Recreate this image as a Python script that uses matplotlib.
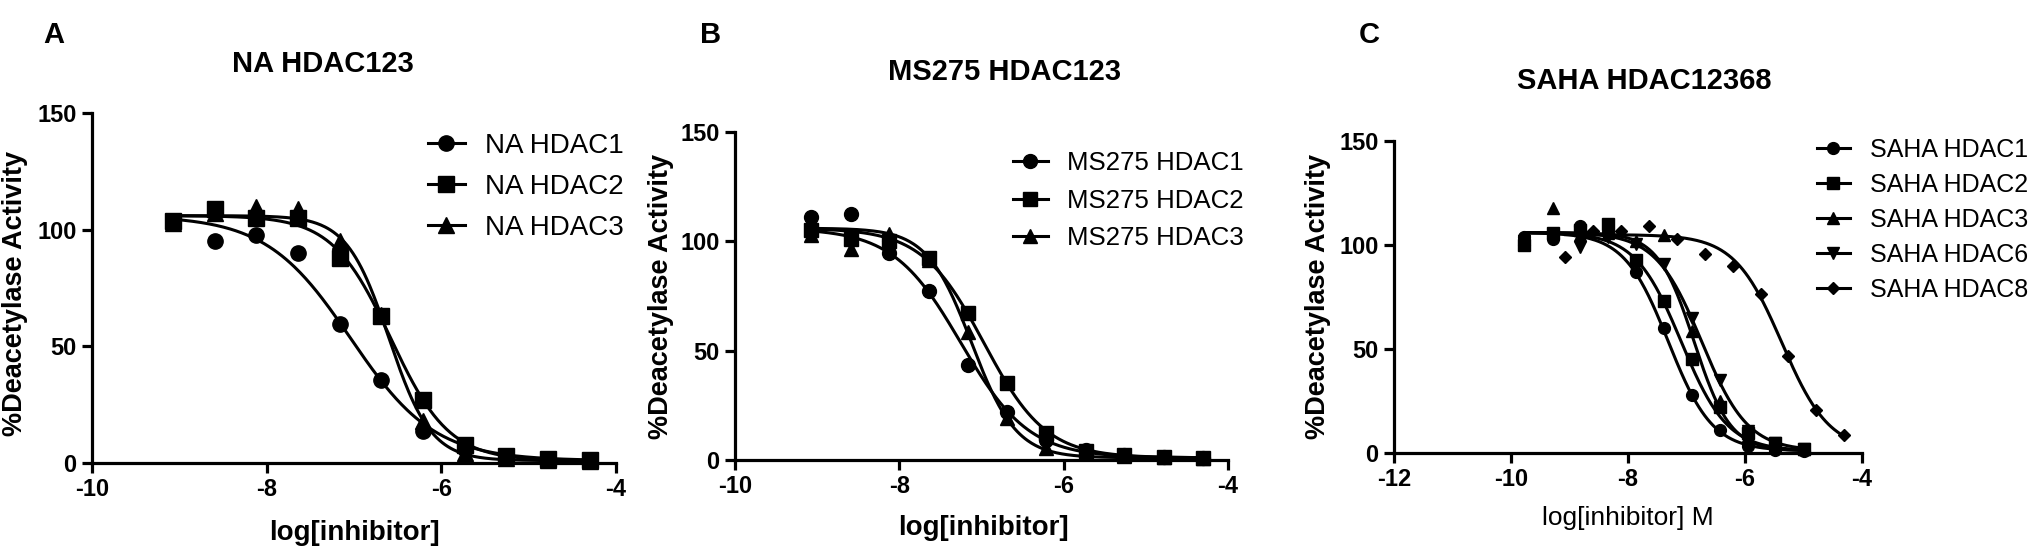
import matplotlib
matplotlib.use("Agg")
import matplotlib.pyplot as plt
import numpy as np

plt.rcParams['font.family'] = ['Liberation Sans', 'DejaVu Sans']
plt.rcParams['axes.unicode_minus'] = False

W, H = 2031, 551

# log concentrations (3-fold dilutions)
x_ab = [-9.07, -8.59, -8.12, -7.64, -7.16, -6.69, -6.21, -5.73, -5.26, -4.78, -4.30]
x_c = [-9.77, -9.29, -8.82, -8.34, -7.86, -7.39, -6.91, -6.43, -5.95, -5.48, -5.00]

# panel A: NA
na_labels = ['NA HDAC1', 'NA HDAC2', 'NA HDAC3']
na_hdac1 = [103, 95, 97.5, 90, 59.7, 35.5, 13.6, 6, 2.5, 1.5, 1]
na_hdac2 = [103.6, 108.9, 105, 105, 87.7, 62.8, 27.2, 7.6, 3, 1.8, 1.2]
na_hdac3 = [103, 107, 109.6, 108.9, 95.3, 63.5, 18, 4.5, 2, 1.5, 1]
# fitted 4PL parameters: top, bottom, logIC50, hill slope
na_fits = [(106, 1, -7.04, 0.9), (106, 1, -6.58, 1.3), (106, 1, -6.60, 1.8)]

# panel B: MS275
ms_labels = ['MS275 HDAC1', 'MS275 HDAC2', 'MS275 HDAC3']
ms_hdac1 = [111.2, 112.3, 94.7, 77.5, 43.3, 22, 9, 4.8, 2.5, 1.5, 1]
ms_hdac2 = [105, 101, 100, 92.3, 67.4, 35.3, 12.4, 4.3, 2.4, 1.5, 1]
ms_hdac3 = [102.7, 96.3, 103.5, 91.4, 58.6, 19.3, 5.6, 3, 2, 1.5, 1]
ms_fits = [(106, 1, -7.25, 1.05), (106, 1, -6.97, 1.15), (106, 1, -7.12, 1.6)]

# panel C: SAHA
saha_labels = ['SAHA HDAC1', 'SAHA HDAC2', 'SAHA HDAC3', 'SAHA HDAC6', 'SAHA HDAC8']
saha_hdac1 = [104, 103, 109, 106, 87, 60, 28, 11, 3.5, 1.5, 1]
saha_hdac2 = [100, 106, 107, 110, 93, 73, 45, 22, 9.5, 5, 2]
saha_hdac3 = [103, 118, 105, 106, 102, 105, 58.5, 25, 8, 4, 2]
saha_hdac6 = [102, 104, 99, 104, 100.7, 91, 65, 35, 10.5, 5, 2]
saha_hdac8 = [94, 106.6, 106.6, 109, 102.7, 95.6, 89.8, 76.3, 46.7, 20.6, 8.8]
saha_fits = [(106, 1, -7.31, 1.15), (106, 1, -7.09, 1.1), (106, 1, -6.87, 1.4),
             (106, 1, -6.74, 1.1), (105, 1, -5.37, 1.07)]


def four_pl(x, top, bottom, logic50, slope):
    return bottom + (top - bottom) / (1 + 10 ** ((x - logic50) * slope))


def add_axes(fig, left, right, top, bottom):
    return fig.add_axes([left / W, 1 - bottom / H, (right - left) / W, (bottom - top) / H])


def style_axes(ax, xticks):
    ax.set_xlim(xticks[0], xticks[-1])
    ax.set_ylim(0, 150)
    ax.set_xticks(xticks)
    ax.set_yticks([0, 50, 100, 150])
    for s in ['top', 'right']:
        ax.spines[s].set_visible(False)
    for s in ['left', 'bottom']:
        ax.spines[s].set_linewidth(2.3)
    ax.tick_params(width=2.3, length=7, labelsize=17, pad=4)
    for lab in ax.get_xticklabels() + ax.get_yticklabels():
        lab.set_fontweight('bold')


def draw_series(ax, xs, ys, fit, marker, ms, label):
    xf = np.linspace(min(xs), max(xs), 300)
    ax.plot(xf, four_pl(xf, *fit), color='black', lw=2.2, zorder=3, clip_on=False)
    ax.plot(xs, ys, linestyle='none', marker=marker, ms=ms, color='black',
            zorder=4, clip_on=False)
    ax.plot([], [], color='black', lw=2.2, marker=marker, ms=ms, label=label)


fig = plt.figure(figsize=(W / 100, H / 100), dpi=100)

# ---- panel A
axA = add_axes(fig, 92, 616, 113, 463)
style_axes(axA, [-10, -8, -6, -4])
for ys, fit, m, lab in zip([na_hdac1, na_hdac2, na_hdac3], na_fits, ['o', 's', '^'], na_labels):
    draw_series(axA, x_ab, ys, fit, m, 11, lab)
axA.legend(loc='upper left', bbox_to_anchor=(428 / W, 1 - 133 / H), bbox_transform=fig.transFigure,
           frameon=False, fontsize=20, borderpad=0, borderaxespad=0, handlelength=1.33,
           handletextpad=0.72, labelspacing=0.54)

# ---- panel B
axB = add_axes(fig, 735, 1228, 132, 460)
style_axes(axB, [-10, -8, -6, -4])
for ys, fit, m, lab in zip([ms_hdac1, ms_hdac2, ms_hdac3], ms_fits, ['o', 's', '^'], ms_labels):
    draw_series(axB, x_ab, ys, fit, m, 10, lab)
axB.legend(loc='upper left', bbox_to_anchor=(1013 / W, 1 - 151 / H), bbox_transform=fig.transFigure,
           frameon=False, fontsize=18.6, borderpad=0, borderaxespad=0, handlelength=1.35,
           handletextpad=0.73, labelspacing=0.53)

# ---- panel C
axC = add_axes(fig, 1394, 1862, 141, 453)
style_axes(axC, [-12, -10, -8, -6, -4])
c_series = [saha_hdac1, saha_hdac2, saha_hdac3, saha_hdac6, saha_hdac8]
c_x = [x_c, x_c, x_c, x_c, x_ab]
c_markers = ['o', 's', '^', 'v', 'D']
c_ms = [8.5, 8.5, 8.5, 8.5, 6.5]
for xs, ys, fit, m, ms, lab in zip(c_x, c_series, saha_fits, c_markers, c_ms, saha_labels):
    draw_series(axC, xs, ys, fit, m, ms, lab)
axC.legend(loc='upper left', bbox_to_anchor=(1817 / W, 1 - 138 / H), bbox_transform=fig.transFigure,
           frameon=False, fontsize=18, borderpad=0, borderaxespad=0, handlelength=1.32,
           handletextpad=0.8, labelspacing=0.44)

# titles, panel letters, axis labels
titles = ['NA HDAC123', 'MS275 HDAC123', 'SAHA HDAC12368']
title_pos = [(323, 64), (1005, 72), (1644, 81)]
for t, (tx, ty) in zip(titles, title_pos):
    fig.text(tx / W, 1 - ty / H, t, ha='center', va='center', fontsize=21, fontweight='bold')

for t, tx in zip(['A', 'B', 'C'], [54, 711, 1369]):
    fig.text(tx / W, 1 - 35 / H, t, ha='center', va='center', fontsize=21, fontweight='bold')

for tx, ty in [(15, 293), (661, 296), (1318, 296)]:
    fig.text(tx / W, 1 - ty / H, '%Deacetylase Activity', rotation=90, ha='center', va='center',
             fontsize=19.5, fontweight='bold')

fig.text(354 / W, 1 - 533 / H, 'log[inhibitor]', ha='center', va='center', fontsize=20, fontweight='bold')
fig.text(983 / W, 1 - 528 / H, 'log[inhibitor]', ha='center', va='center', fontsize=20, fontweight='bold')
fig.text(1628 / W, 1 - 518 / H, 'log[inhibitor] M', ha='center', va='center', fontsize=19)

fig.savefig('out.png', dpi=100)
